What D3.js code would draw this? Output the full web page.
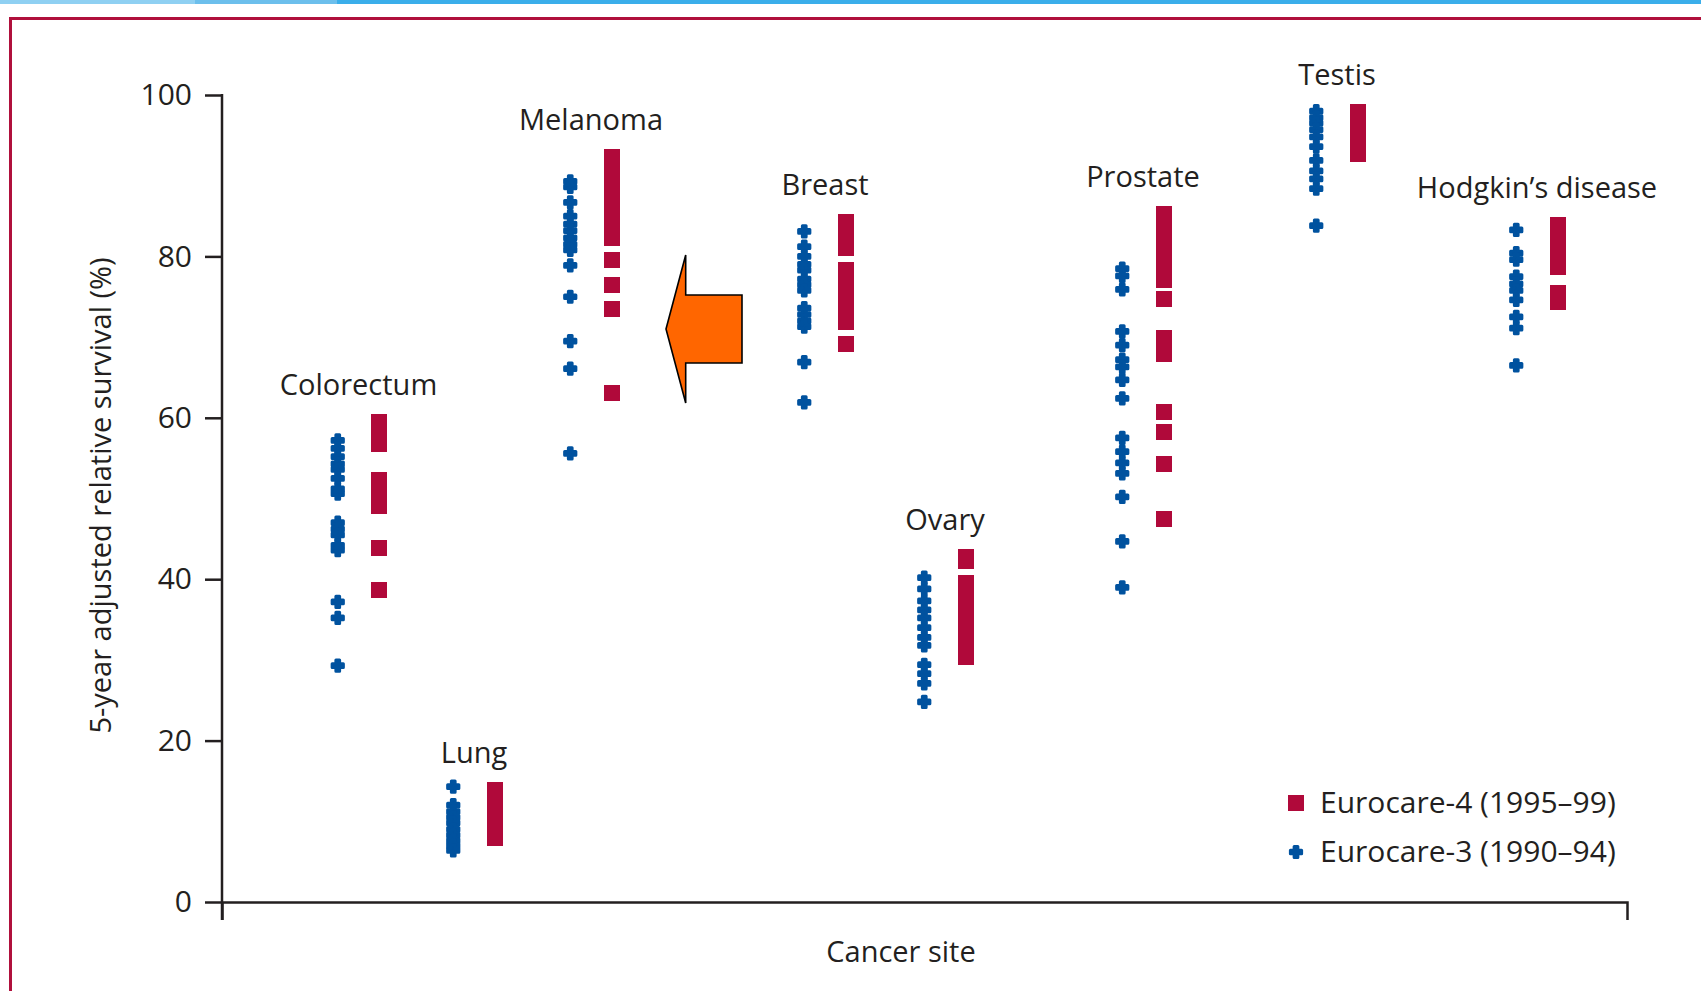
<!DOCTYPE html>
<html><head><meta charset="utf-8">
<script src="https://cdn.jsdelivr.net/npm/d3@7"></script>
<style>
html,body{margin:0;padding:0;background:#fff;}
svg{display:block;}
text{font-family:"Open Sans",sans-serif;fill:#231f20;}
</style></head><body>
<svg id="chart" width="1701" height="991"></svg>
<script>
// ---------- data ----------
const categories = ["Colorectum","Lung","Melanoma","Breast","Ovary","Prostate","Testis","Hodgkin’s disease"];
const seriesNames = ["Eurocare-4 (1995–99)","Eurocare-3 (1990–94)"];
const yTicks = [0,20,40,60,80,100];
const yTitle = "5-year adjusted relative survival (%)";
const xTitle = "Cancer site";

// Eurocare-4 (1995–99), one value per country, by category
const eurocare4 = [
  [59.5, 58.2, 56.8, 52.3, 50.8, 49.1, 43.9, 38.7],
  [13.9, 12.4, 10.9, 9.4, 7.9],
  [92.3, 90.6, 88.9, 87.2, 85.6, 83.9, 82.3, 79.5, 76.4, 73.5, 63.1],
  [84.3, 82.7, 81.1, 78.3, 76.6, 75.0, 73.4, 71.9, 69.1],
  [42.8, 42.2, 39.5, 37.9, 36.3, 34.7, 33.1, 31.6, 30.3],
  [85.2, 83.6, 82.0, 80.4, 78.8, 77.1, 74.7, 69.9, 67.9, 60.7, 58.2, 54.3, 47.5],
  [97.9, 96.3, 94.6, 92.7],
  [83.9, 82.3, 80.6, 78.7, 75.5, 74.3]
];
// Eurocare-3 (1990–94)
const eurocare3 = [
  [57.2, 56.2, 55.2, 54.3, 53.6, 52.5, 51.2, 50.6, 47.0, 46.2, 45.5, 44.2, 43.6, 37.2, 35.2, 29.3],
  [14.3, 12.0, 11.2, 10.5, 9.8, 9.0, 8.3, 7.6, 7.0, 6.4],
  [89.3, 88.6, 86.7, 85.0, 84.0, 83.2, 82.3, 81.5, 80.8, 78.9, 75.0, 69.5, 66.1, 55.6],
  [83.1, 81.2, 80.0, 79.0, 78.3, 77.2, 76.5, 75.8, 73.6, 72.8, 72.0, 71.3, 66.9, 61.9],
  [40.2, 38.8, 37.3, 36.2, 35.2, 34.0, 32.8, 31.8, 29.4, 28.3, 27.1, 24.8],
  [78.5, 77.6, 75.9, 70.7, 69.0, 67.2, 66.3, 64.7, 62.4, 57.5, 55.8, 54.4, 53.1, 50.2, 44.7, 39.0],
  [98.0, 97.2, 96.5, 95.7, 94.8, 93.6, 91.9, 90.6, 89.6, 88.4, 83.8],
  [83.3, 80.4, 79.6, 77.5, 76.6, 75.8, 74.6, 72.5, 71.1, 66.5]
];

// ---------- layout / style ----------
const RED = "#b0093a", BLUE = "#00529f", INK = "#231f20";
const FS = 29;
const svg = d3.select("#chart");

// frame decorations
svg.append("rect").attr("x",0).attr("y",0).attr("width",1701).attr("height",4).attr("fill","#3aaeea");
svg.append("rect").attr("x",0).attr("y",0).attr("width",337).attr("height",4).attr("fill","#6cbfec");
svg.append("rect").attr("x",0).attr("y",0).attr("width",195).attr("height",4).attr("fill","#8fd0f2");
svg.append("rect").attr("x",9).attr("y",17).attr("width",1692).attr("height",3).attr("fill","#b0103c");
svg.append("rect").attr("x",9).attr("y",17).attr("width",3).attr("height",974).attr("fill","#b0103c");

const X0 = 222, X1 = 1627;
const y = d3.scaleLinear().domain([0,100]).range([902, 95]);
const xCat = d3.scaleOrdinal().domain(categories)
  .range([358.5, 474, 591, 825, 945, 1143, 1337, 1537]);
const xSer = d3.scalePoint().domain(["e3","e4"]).range([-20.75, 20.75]);

// y axis
const gy = svg.append("g").attr("transform",`translate(${X0},0)`)
  .call(d3.axisLeft(y).tickValues(yTicks).tickSize(17).tickSizeOuter(0).tickPadding(13));
gy.select(".domain").remove();
gy.selectAll(".tick line").attr("stroke",INK).attr("stroke-width",2.5);
gy.selectAll(".tick text").attr("font-size",FS+1).attr("font-family","'Open Sans',sans-serif").attr("fill",INK);
svg.append("line").attr("x1",X0).attr("x2",X0).attr("y1",y(100)-1).attr("y2",920)
  .attr("stroke",INK).attr("stroke-width",2.5);

// x axis
const xLin = d3.scaleLinear().domain([0,1]).range([X0, X1]);
const gx = svg.append("g").attr("transform",`translate(0,${y(0)})`)
  .call(d3.axisBottom(xLin).tickValues([]).tickSizeOuter(18));
gx.select(".domain").attr("stroke",INK).attr("stroke-width",2.5).attr("fill","none");

// titles
svg.append("text").attr("transform",`translate(101,${(y(0)+y(100))/2 - 3}) rotate(-90)`)
  .attr("text-anchor","middle").attr("dy","0.35em").attr("font-size",FS).text(yTitle);
svg.append("text").attr("x",901).attr("y",962).attr("text-anchor","middle")
  .attr("font-size",FS).text(xTitle);

// marks
const SQ = 16;
const crossSym = d3.symbol().type(d3.symbolCross).size(70);
categories.forEach((c,i)=>{
  const g = svg.append("g");
  g.selectAll("rect.e4").data(eurocare4[i]).join("rect").attr("class","e4")
    .attr("x", xCat(c)+xSer("e4")-SQ/2).attr("y", d=>y(d)-SQ/2)
    .attr("width",SQ).attr("height",SQ).attr("fill",RED)
    .attr("shape-rendering","crispEdges");
  g.selectAll("path.e3").data(eurocare3[i]).join("path").attr("class","e3")
    .attr("d",crossSym)
    .attr("transform", d=>`translate(${xCat(c)+xSer("e3")},${y(d)})`)
    .attr("fill",BLUE).attr("stroke",BLUE).attr("stroke-width",3).attr("stroke-linejoin","round");
  const top = d3.max(eurocare4[i]);
  g.append("text").attr("x",xCat(c)).attr("y",y(top)-SQ/2-19)
    .attr("text-anchor","middle").attr("font-size",FS).text(c);
});

// arrow annotation pointing at melanoma
const tx = xCat("Melanoma")+75, ty = y(71);
const arrowPts = [[0,0],[19.7,-74],[19.7,-34],[76,-34],[76,34],[19.7,34],[19.7,74]];
svg.append("path")
  .attr("d", d3.line()(arrowPts.map(p=>[tx+p[0], ty+p[1]]))+"Z")
  .attr("fill","#ff6600").attr("stroke","#000").attr("stroke-width",1.6).attr("stroke-linejoin","miter");

// legend
const lg = svg.append("g");
lg.append("rect").attr("x",1288).attr("y",795).attr("width",SQ).attr("height",SQ).attr("fill",RED);
lg.append("path").attr("d",crossSym).attr("transform","translate(1296,852)")
  .attr("fill",BLUE).attr("stroke",BLUE).attr("stroke-width",3).attr("stroke-linejoin","round");
lg.append("text").attr("x",1320).attr("y",813).attr("font-size",FS+1).text(seriesNames[0]);
lg.append("text").attr("x",1320).attr("y",862).attr("font-size",FS+1).text(seriesNames[1]);
</script>
</body></html>
